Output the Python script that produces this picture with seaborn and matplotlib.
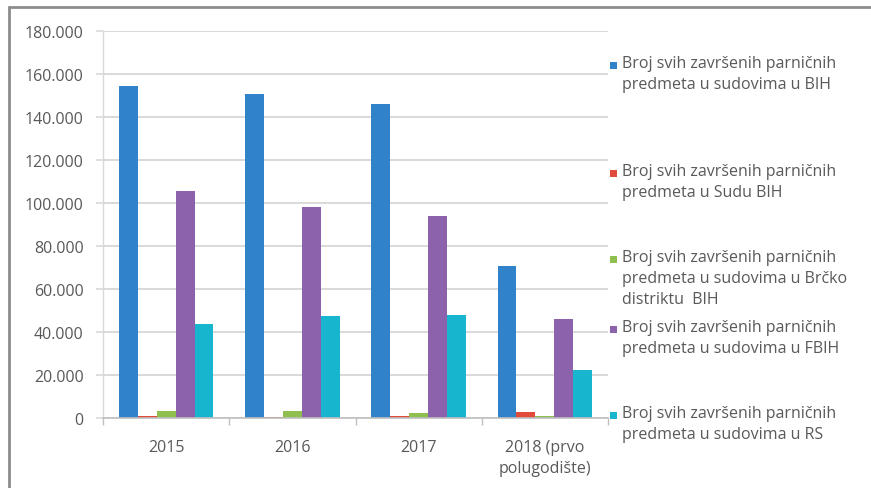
import matplotlib
matplotlib.use("Agg")
import matplotlib.pyplot as plt
from matplotlib.patches import Rectangle
from matplotlib.lines import Line2D
from matplotlib.ticker import FuncFormatter, FixedLocator
import seaborn as sns
import pandas as pd

# Data: completed civil cases per court level and year
godine = ["2015", "2016", "2017", "2018 (prvo\npolugodište)"]
serije = [
    "Broj svih završenih parničnih\npredmeta u sudovima u BIH",
    "Broj svih završenih parničnih\npredmeta u Sudu BIH",
    "Broj svih završenih parničnih\npredmeta u sudovima u Brčko\ndistriktu  BIH",
    "Broj svih završenih parničnih\npredmeta u sudovima u FBIH",
    "Broj svih završenih parničnih\npredmeta u sudovima u RS",
]
sudovi_bih = [154500, 150700, 146000, 70700]
sud_bih = [900, 500, 900, 2800]
brcko = [3100, 3100, 2400, 900]
fbih = [105600, 98100, 94000, 46000]
rs = [43700, 47400, 47900, 22300]
boje = ["#3083c8", "#e04b3c", "#8fc04f", "#8d62ad", "#18b5cf"]

vrijednosti = [sudovi_bih, sud_bih, brcko, fbih, rs]
df = pd.DataFrame(
    [(g, s, v[i]) for s, v in zip(serije, vrijednosti) for i, g in enumerate(godine)],
    columns=["Godina", "Serija", "Broj"],
)

sns.set_theme(style="white")
plt.rcParams["font.family"] = ["Open Sans", "DejaVu Sans"]

W, H = 871, 489
fig = plt.figure(figsize=(W / 100, H / 100), dpi=100)
fig.patch.set_facecolor("white")
ax = fig.add_axes([103 / W, 1 - 419 / H, (608 - 103) / W, (419 - 32) / H])

sns.barplot(
    data=df, x="Godina", y="Broj", hue="Serija", order=godine, hue_order=serije,
    palette=boje, width=0.75, saturation=1, legend=False, ax=ax, errorbar=None,
    linewidth=0, edgecolor="none",
)

ax.set_ylim(0, 180000)
ax.set_xlim(-0.5, len(godine) - 0.5)
ax.set_yticks(range(0, 180001, 20000))
ax.yaxis.set_major_formatter(
    FuncFormatter(lambda v, p: "0" if v == 0 else f"{int(v):,}".replace(",", "."))
)
ax.set_xlabel("")
ax.set_ylabel("")

txt = "#595959"
fs = 11.5
ax.grid(axis="y", color="#d9d9d9", linewidth=1.4)
ax.set_axisbelow(True)
for side in ["top", "right"]:
    ax.spines[side].set_visible(False)
ax.spines["left"].set_color("#d9d9d9")
ax.spines["bottom"].set_color("#bfbfbf")
ax.spines["left"].set_linewidth(1.0)
ax.spines["bottom"].set_linewidth(1.2)

ax.tick_params(axis="y", which="major", left=True, length=5, width=1.2,
               color="#d9d9d9", pad=9, labelsize=fs, labelcolor=txt)
ax.tick_params(axis="x", which="major", bottom=False, length=0, pad=15,
               labelsize=fs, labelcolor=txt)
ax.xaxis.set_minor_locator(FixedLocator([i - 0.5 for i in range(len(godine) + 1)]))
ax.tick_params(axis="x", which="minor", bottom=True, length=5, width=1.0,
               color="#bfbfbf")
for lab in ax.get_xticklabels():
    lab.set_linespacing(1.4)

# Legend on the right, one block per series
leg_y = [67, 175, 261, 331, 417]
for s, c, y in zip(serije, boje, leg_y):
    fig.add_artist(Rectangle((610 / W, 1 - (y + 3) / H), 7 / W, 7 / H,
                             transform=fig.transFigure, color=c, lw=0))
    fig.text(622 / W, 1 - (y - 11) / H, s, ha="left", va="top", fontsize=fs,
             color=txt, linespacing=1.4)

# Outer chart frame
fig.add_artist(Line2D([9 / W, 1], [1 - 8 / H, 1 - 8 / H], transform=fig.transFigure,
                      color="#8c8c8c", lw=2))
fig.add_artist(Line2D([9 / W, 9 / W], [0, 1 - 8 / H], transform=fig.transFigure,
                      color="#8c8c8c", lw=2))

fig.savefig("out.png", dpi=100, facecolor="white")
